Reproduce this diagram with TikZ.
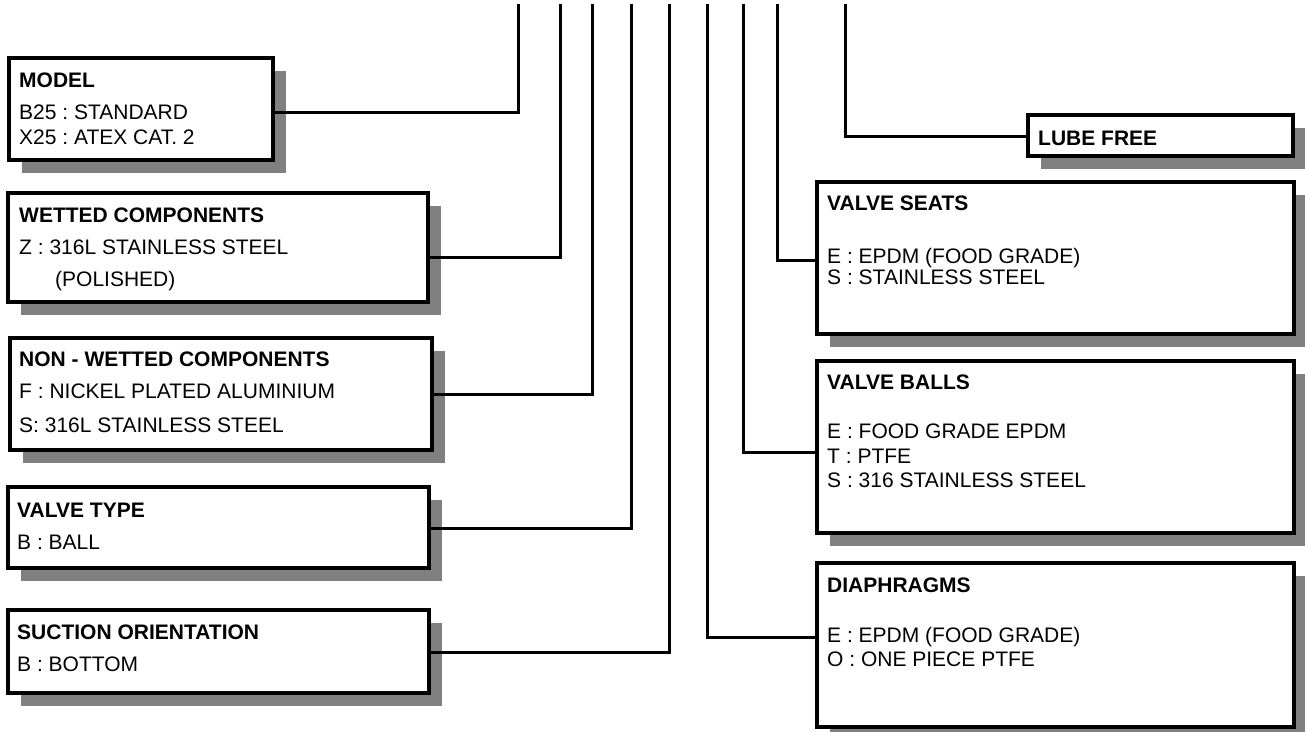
\documentclass[tikz,border=0pt]{standalone}
\usepackage{fontspec}
\setmainfont{Liberation Sans}
\usetikzlibrary{shadows}
\definecolor{shadowgray}{RGB}{128,128,128}
\frenchspacing
\begin{document}
\frenchspacing
\begin{tikzpicture}[x=1bp,y=-1bp,
  optbox/.style={draw, line width=3.4bp, fill=white, inner sep=0pt, outer sep=0pt, anchor=north west,
    drop shadow={shadow xshift=13bp, shadow yshift=-13bp, fill=shadowgray, opacity=1}},
  conn/.style={line width=3bp, line join=miter, line cap=rect},
  hd/.style={anchor=base west, inner sep=0pt, font=\fontsize{21bp}{24bp}\selectfont\bfseries},
  tx/.style={anchor=base west, inner sep=0pt, font=\fontsize{21bp}{24bp}\selectfont}]
\useasboundingbox (0,0) rectangle (1305,731);

% boxes
\node[optbox, minimum width=264bp, minimum height=102bp] (model) at (9,58) {};
\node[optbox, minimum width=420bp, minimum height=109bp] (wet) at (8,193) {};
\node[optbox, minimum width=422bp, minimum height=112bp] (nonwet) at (10,338) {};
\node[optbox, minimum width=421bp, minimum height=81bp] (vtype) at (8,487) {};
\node[optbox, minimum width=421bp, minimum height=83bp] (suction) at (8,610) {};
\node[optbox, minimum width=265bp, minimum height=41bp] (lube) at (1028,115) {};
\node[optbox, minimum width=477bp, minimum height=152bp] (seats) at (817,182) {};
\node[optbox, minimum width=477bp, minimum height=172bp] (balls) at (817,361) {};
\node[optbox, minimum width=477bp, minimum height=164bp] (diaph) at (817,563) {};

% texts
\node[hd] (modelT) at (19,88) {MODEL};
\node[tx] (model1) at (19,120) {B25 : STANDARD};
\node[tx] (model2) at (19,144) {X25 : ATEX CAT. 2};

\node[hd] (wetT) at (19,222) {WETTED COMPONENTS};
\node[tx] (wet1) at (19,254) {Z : 316L STAINLESS STEEL};
\node[tx] (wet2) at (55,286) {(POLISHED)};

\node[hd] (nonwetT) at (19,366) {NON - WETTED COMPONENTS};
\node[tx] (nonwet1) at (19,398) {F : NICKEL PLATED ALUMINIUM};
\node[tx] (nonwet2) at (19,432) {S: 316L STAINLESS STEEL};

\node[hd] (vtypeT) at (17,517) {VALVE TYPE};
\node[tx] (vtype1) at (17,549) {B : BALL};

\node[hd] (suctionT) at (17,639) {SUCTION ORIENTATION};
\node[tx] (suction1) at (17,671) {B : BOTTOM};

\node[hd] (lubeT) at (1038,145) {LUBE FREE};

\node[hd] (seatsT) at (827,210) {VALVE SEATS};
\node[tx] (seats1) at (827,263) {E : EPDM (FOOD GRADE)};
\node[tx] (seats2) at (827,284) {S : STAINLESS STEEL};

\node[hd] (ballsT) at (827,389) {VALVE BALLS};
\node[tx] (balls1) at (827,438) {E : FOOD GRADE EPDM};
\node[tx] (balls2) at (827,463) {T : PTFE};
\node[tx] (balls3) at (827,487) {S : 316 STAINLESS STEEL};

\node[hd] (diaphT) at (827,592) {DIAPHRAGMS};
\node[tx] (diaph1) at (827,642) {E : EPDM (FOOD GRADE)};
\node[tx] (diaph2) at (827,666) {O : ONE PIECE PTFE};

% connectors
\coordinate (tA) at (518,6);  \coordinate (kA) at (518,113);
\coordinate (tB) at (560,6);  \coordinate (kB) at (560,257);
\coordinate (tC) at (592,6);  \coordinate (kC) at (592,394);
\coordinate (tD) at (631,6);  \coordinate (kD) at (631,528);
\coordinate (tE) at (669,6);  \coordinate (kE) at (669,652);
\coordinate (tF) at (707,6);  \coordinate (kF) at (707,637);
\coordinate (tG) at (743,6);  \coordinate (kG) at (743,452);
\coordinate (tH) at (777,6);  \coordinate (kH) at (777,260);
\coordinate (tI) at (845,6);  \coordinate (kI) at (845,136);

\draw[conn] (tA) -- (kA) -- (kA -| model.east);
\draw[conn] (tB) -- (kB) -- (kB -| wet.east);
\draw[conn] (tC) -- (kC) -- (kC -| nonwet.east);
\draw[conn] (tD) -- (kD) -- (kD -| vtype.east);
\draw[conn] (tE) -- (kE) -- (kE -| suction.east);
\draw[conn] (tF) -- (kF) -- (kF -| diaph.west);
\draw[conn] (tG) -- (kG) -- (kG -| balls.west);
\draw[conn] (tH) -- (kH) -- (kH -| seats.west);
\draw[conn] (tI) -- (kI) -- (kI -| lube.west);
\end{tikzpicture}
\end{document}
